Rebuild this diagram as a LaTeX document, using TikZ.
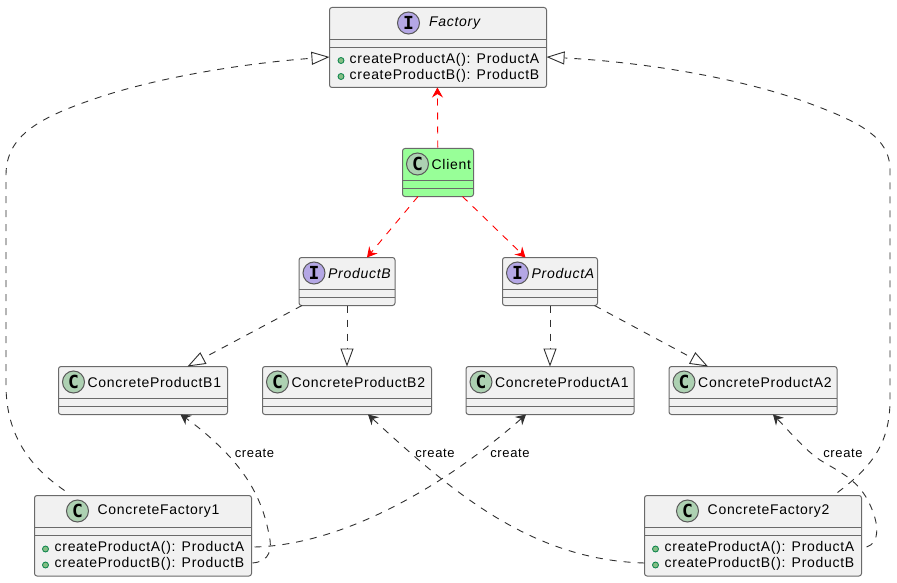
\documentclass[tikz,border=0pt]{standalone}
\usepackage{fontspec}
\setmainfont{Liberation Sans}[LetterSpace=5]
\newfontfamily\glyphfont{DejaVu Sans Mono}
\usetikzlibrary{arrows.meta,calc}
\definecolor{boxfill}{HTML}{F1F1F1}
\definecolor{boxline}{HTML}{6A6A6A}
\definecolor{clientfill}{HTML}{98FF98}
\definecolor{cfill}{HTML}{ADD1B2}
\definecolor{ifill}{HTML}{B4A7E5}
\definecolor{dotfill}{HTML}{84BE84}
\definecolor{dotline}{HTML}{038048}
\definecolor{lineclr}{HTML}{303030}
\tikzset{
  umlbox/.style={draw=boxline,fill=boxfill,line width=1pt,rounded corners=2.5pt,inner sep=0pt,outer sep=0pt},
  sep/.style={draw=boxline,line width=1pt},
  badge/.style={circle,draw=lineclr!80,line width=1pt,minimum size=22pt,inner sep=0pt,font=\glyphfont\bfseries\fontsize{18}{18}\selectfont},
  cbadge/.style={badge,fill=cfill},
  ibadge/.style={badge,fill=ifill},
  txt/.style={inner sep=0pt,anchor=west,font=\fontsize{14}{16}\selectfont,text=black},
  itxt/.style={txt,font=\fontsize{14}{16}\selectfont\itshape},
  lbl/.style={inner sep=0pt,font=\fontsize{13}{15}\selectfont,text=black},
  dot/.style={circle,draw=dotline,fill=dotfill,line width=.8pt,minimum size=6pt,inner sep=0pt},
  useline/.style={draw=red,line width=.9pt,dash pattern=on 7pt off 7pt,-{Stealth[length=10pt,width=11pt,inset=3.5pt,red]}},
  implline/.style={draw=lineclr,line width=.9pt,dash pattern=on 7pt off 7pt,-{Triangle[open,length=18pt,width=13pt,line width=.9pt,fill=white]}},
  createline/.style={draw=lineclr,line width=.9pt,dash pattern=on 7pt off 7pt,-{Stealth[length=10pt,width=11pt,inset=3.5pt]}},
}
% name, x0, y0, x1, y1, fill, sep1, sep2
\newcommand{\umlrect}[8]{%
  \node[umlbox,fill=#6,minimum width=#4pt-#2pt,minimum height=#5pt-#3pt,anchor=north west] (#1) at (#2,#3) {};
  \draw[sep] (#2,#7) -- (#4,#7);
  \draw[sep] (#2,#8) -- (#4,#8);
}
\begin{document}
\begin{tikzpicture}[x=1pt,y=-1pt]
\useasboundingbox (0,0) rectangle (897,583);
\fill[white] (0,0) rectangle (897,583);

\umlrect{factory}{329.5}{7.5}{546.5}{87.5}{boxfill}{39.5}{47.5}
\node[ibadge] (bf) at (408.5,23) {I};
\node[itxt] (tf) at (429,23) {Factory};
\node[dot] (df1) at (341,60.5) {};
\node[dot] (df2) at (341,76.5) {};
\node[txt] (mf1) at (349.5,59.5) {createProductA(): ProductA};
\node[txt] (mf2) at (349.5,75.5) {createProductB(): ProductB};

\umlrect{client}{402.5}{148.5}{473.5}{196.5}{clientfill}{180.5}{188.5}
\node[cbadge] (bc) at (417.5,164) {C};
\node[txt] (tc) at (431.5,164) {Client};

\umlrect{pb}{299}{257.5}{395}{305.5}{boxfill}{289.5}{297.5}
\node[ibadge] (bpb) at (314,273) {I};
\node[itxt] (tpb) at (328,273) {ProductB};

\umlrect{pa}{502.5}{257.5}{597.5}{305.5}{boxfill}{289.5}{297.5}
\node[ibadge] (bpa) at (517.5,273) {I};
\node[itxt] (tpa) at (531.5,273) {ProductA};

\umlrect{b1}{58.5}{366.5}{227.5}{414.5}{boxfill}{398.5}{406.5}
\node[cbadge] (bb1) at (73.5,382) {C};
\node[txt] (tb1) at (87.5,382) {ConcreteProductB1};

\umlrect{b2}{262.5}{366.5}{431.5}{414.5}{boxfill}{398.5}{406.5}
\node[cbadge] (bb2) at (277.5,382) {C};
\node[txt] (tb2) at (291.5,382) {ConcreteProductB2};

\umlrect{a1}{466}{366.5}{634}{414.5}{boxfill}{398.5}{406.5}
\node[cbadge] (ba1) at (481,382) {C};
\node[txt] (ta1) at (495,382) {ConcreteProductA1};

\umlrect{a2}{669}{366.5}{837}{414.5}{boxfill}{398.5}{406.5}
\node[cbadge] (ba2) at (684,382) {C};
\node[txt] (ta2) at (698,382) {ConcreteProductA2};

\umlrect{f1}{34.5}{495.5}{251.5}{576}{boxfill}{527.5}{535.5}
\node[cbadge] (bf1) at (77.5,511) {C};
\node[txt] (tf1) at (97.5,511) {ConcreteFactory1};
\node[dot] (d11) at (45.5,549) {};
\node[dot] (d12) at (45.5,565) {};
\node[txt] (m11) at (54.5,548) {createProductA(): ProductA};
\node[txt] (m12) at (54.5,564) {createProductB(): ProductB};

\umlrect{f2}{644.5}{495.5}{861.5}{576}{boxfill}{527.5}{535.5}
\node[cbadge] (bf2) at (687.5,511) {C};
\node[txt] (tf2) at (707.5,511) {ConcreteFactory2};
\node[dot] (d21) at (655.5,549) {};
\node[dot] (d22) at (655.5,565) {};
\node[txt] (m21) at (664.5,548) {createProductA(): ProductA};
\node[txt] (m22) at (664.5,564) {createProductB(): ProductB};

% realisation
\draw[implline] ([xshift=3pt]pb.south west) -- ([xshift=129pt]b1.north west);
\draw[implline] (pb.south) -- (b2.north);
\draw[implline] (pa.south) -- (a1.north);
\draw[implline] ([xshift=-3pt]pa.south east) -- ([xshift=39pt]a2.north west);

% use relations
\draw[useline] ([xshift=15.5pt]client.south west) -- ([xshift=68pt]pb.north west);
\draw[useline] ([xshift=-11pt]client.south east) -- ([xshift=23pt]pa.north west);
\draw[useline] ([xshift=-.2pt,yshift=1pt]client.north) -- ([xshift=-.6pt]factory.south);

% factories to Factory
\draw[implline] ([xshift=30pt,yshift=5pt]f1.north west)
  .. controls (35,470) and (6,440) .. (6,385)
  -- (6,175)
  .. controls (6,135) and (40,117) .. (100,97)
  .. controls (170,74) and (260,62) .. ([yshift=-9.5pt]factory.west);
\draw[implline] ([xshift=-24pt,yshift=3pt]f2.north east)
  .. controls (870,468) and (890,445) .. (890,400)
  -- (890,170)
  .. controls (890,135) and (855,120) .. (800,100)
  .. controls (730,76) and (640,62) .. ([yshift=-9.5pt]factory.east);

% create relations
\draw[createline] ([xshift=1pt,yshift=13pt]f1.south east)
  .. controls (265,562) and (272,555) .. (270,540)
  .. controls (265,510) and (255,485) .. (230,457)
  .. controls (215,441) and (200,428) .. ([xshift=122pt]b1.south west);
\draw[createline] ([yshift=29pt,xshift=3pt]f1.south east)
  .. controls (340,545) and (440,490) .. ([xshift=60pt]a1.south west);
\draw[createline] ([yshift=13pt]f2.south west)
  .. controls (530,560) and (450,490) .. ([xshift=105.5pt]b2.south west);
\draw[createline] ([yshift=29pt,xshift=5pt]f2.south east)
  .. controls (880,543) and (878,525) .. (873,512)
  .. controls (862,482) and (845,475) .. (820,460)
  .. controls (805,450) and (790,432) .. ([xshift=104pt]a2.south west);

\node[lbl] (c1) at (254.5,453.5) {create};
\node[lbl] (c2) at (435,453.5) {create};
\node[lbl] (c3) at (510,453.5) {create};
\node[lbl] (c4) at (843,453.5) {create};
\end{tikzpicture}
\end{document}
